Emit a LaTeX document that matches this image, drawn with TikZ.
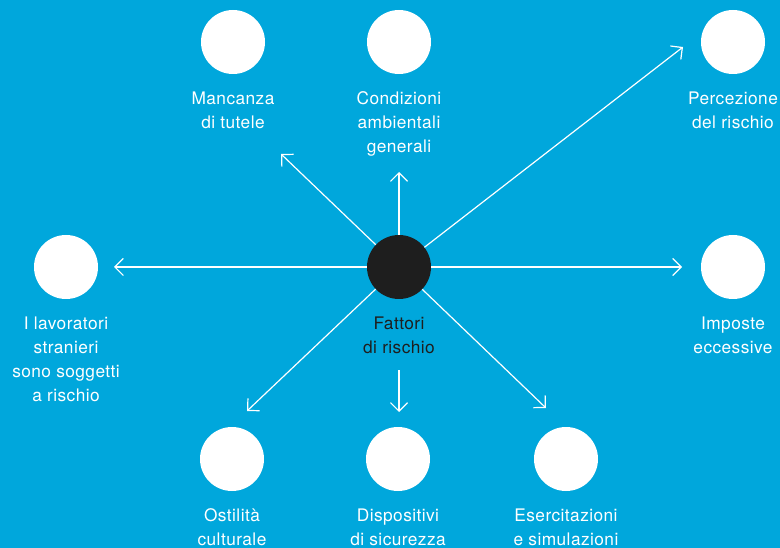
\documentclass[tikz,border=0pt]{standalone}
\usepackage{fontspec}
\setmainfont{TeX Gyre Heros}[LetterSpace=2.5]
\usetikzlibrary{positioning, arrows.meta}
\definecolor{skyblue}{RGB}{0,167,220}
\definecolor{darkdot}{RGB}{30,30,30}
\tikzstyle{factor} = [circle, minimum size=64pt, inner sep=0pt, fill=white]
\tikzstyle{hub} = [circle, minimum size=64pt, inner sep=0pt, fill=darkdot]
\tikzstyle{caption} = [text=white, align=center, inner sep=0pt, font=\fontsize{17.3}{24}\selectfont]
\tikzstyle{arrow} = [white, line width=1.2pt, -{Straight Barb[length=8.5pt,width=17pt]}]

\begin{document}
\begin{tikzpicture}[x=1pt, y=-1pt, node distance=17pt]
        \fill[skyblue] (0,0) rectangle (780,548);
        \useasboundingbox (0,0) rectangle (780,548);

        % arrow ends
        \coordinate (tUL) at (281,154);
        \coordinate (tU) at (399,172);
        \coordinate (tUR) at (683,47);
        \coordinate (tL) at (114,267);
        \coordinate (tR) at (682,267);
        \coordinate (tDL) at (247,411);
        \coordinate (tD) at (399,412);
        \coordinate (tDR) at (546,408);

        \node (Fattori) [hub] at (399,267) {};
        \node (Mancanza) [factor] at (233,42) {};
        \node (Condizioni) [factor] at (399,42) {};
        \node (Percezione) [factor] at (733,42) {};
        \node (Lavoratori) [factor] at (66,267) {};
        \node (Imposte) [factor] at (733,267) {};
        \node (Ostilita) [factor] at (232,459) {};
        \node (Dispositivi) [factor] at (398,459) {};
        \node (Esercitazioni) [factor] at (566,459) {};

        \node (FattoriL) [caption, text=darkdot, below=of Fattori] {Fattori\\di rischio};
        \node (MancanzaL) [caption, below=of Mancanza] {Mancanza\\di tutele};
        \node (CondizioniL) [caption, below=of Condizioni] {Condizioni\\ambientali\\generali};
        \node (PercezioneL) [caption, below=of Percezione] {Percezione\\del rischio};
        \node (LavoratoriL) [caption, below=of Lavoratori] {I lavoratori\\stranieri\\sono soggetti\\a rischio};
        \node (ImposteL) [caption, below=of Imposte] {Imposte\\eccessive};
        \node (OstilitaL) [caption, below=of Ostilita] {Ostilità\\culturale};
        \node (DispositiviL) [caption, below=of Dispositivi] {Dispositivi\\di sicurezza};
        \node (EsercitazioniL) [caption, below=of Esercitazioni] {Esercitazioni\\e simulazioni};

        \draw[arrow] (Fattori) -- (tUL);
        \draw[arrow] (Fattori) -- (tU);
        \draw[arrow] (Fattori) -- (tUR);
        \draw[arrow] (Fattori) -- (tL);
        \draw[arrow] (Fattori) -- (tR);
        \draw[arrow] (Fattori) -- (tDL);
        \draw[arrow] (Fattori) -- (tDR);
        \draw[arrow, shorten <=17pt] (FattoriL) -- (tD);
    \end{tikzpicture}
\end{document}
